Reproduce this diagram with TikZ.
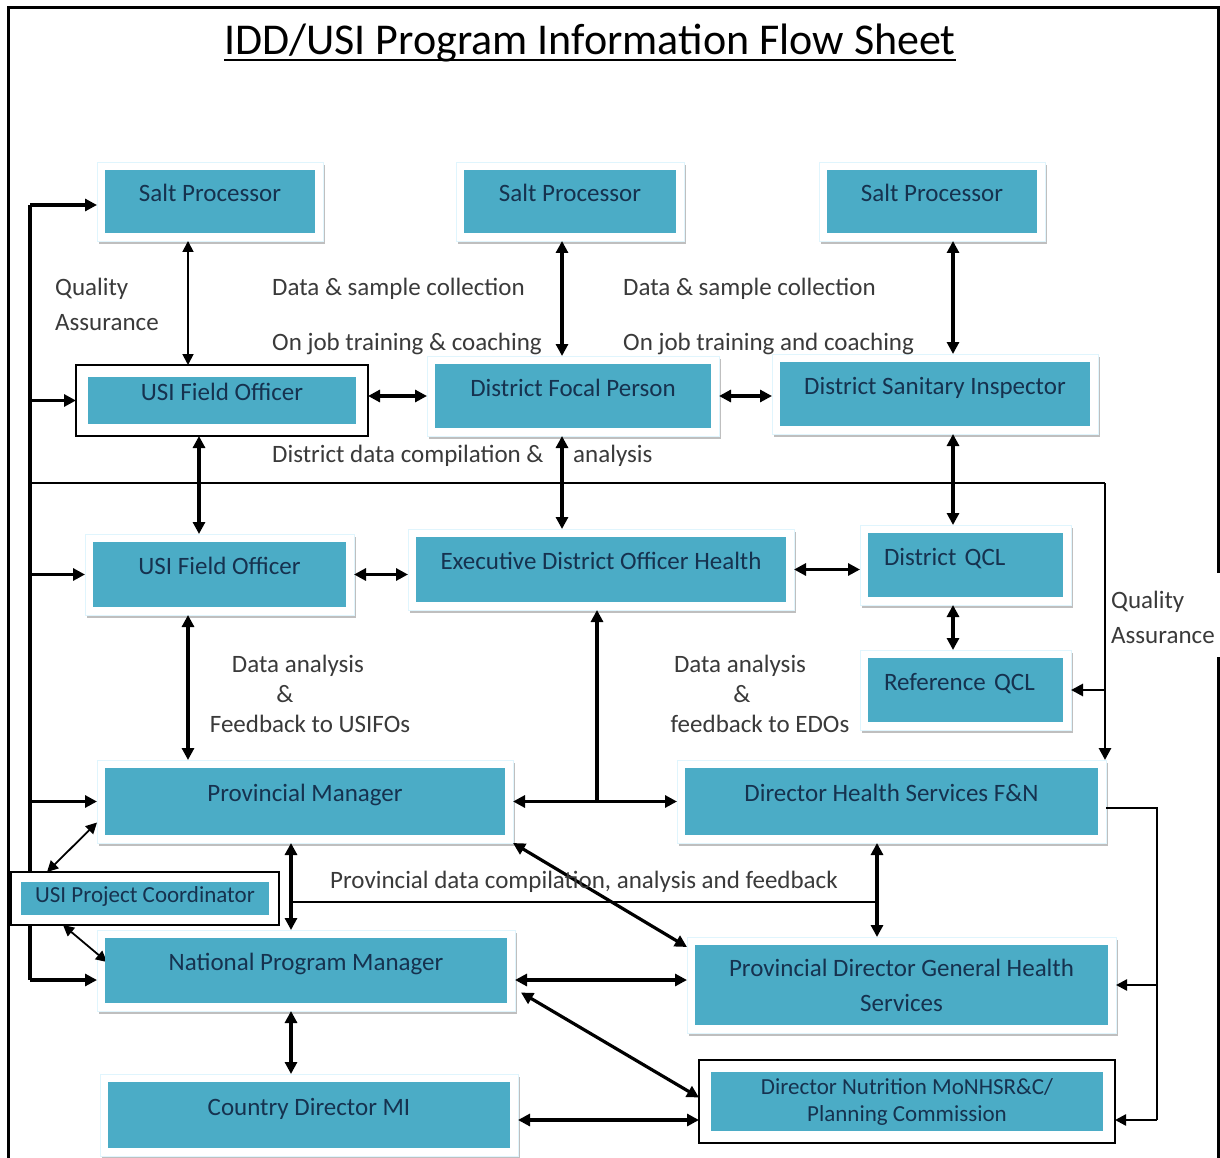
\documentclass[tikz,border=0pt]{standalone}
\usepackage{fontspec}
\setmainfont{Carlito}
\usetikzlibrary{arrows.meta,calc}
\definecolor{boxteal}{HTML}{4BACC6}
\definecolor{boxtext}{HTML}{16324F}
\definecolor{lbltext}{HTML}{3A3A3A}
\newcommand\titlefont{\fontsize{44}{50}\selectfont}
\newcommand\boxfont{\fontsize{25}{30}\selectfont}
\newcommand\lblfont{\fontsize{25}{30}\selectfont}
\newcommand\twofont{\fontsize{25}{35}\selectfont}
\newcommand\smallboxfont{\fontsize{23}{27}\selectfont}
\pgfdeclarelayer{shade}
\pgfdeclarelayer{wires}
\pgfdeclarelayer{cover}
\pgfsetlayers{shade,wires,cover,main}
\begin{document}
\begin{tikzpicture}[x=1pt,y=-1pt,
  box/.style 2 args={fill=boxteal, text=boxtext, inner sep=0pt, outer sep=8pt,
    minimum width=#1, text height=#2, text depth=#2, font=\boxfont},
  twobox/.style={fill=boxteal, text=boxtext, inner sep=0pt, outer sep=8pt,
    align=center, font=\twofont},
  qcl/.style={text width=163pt, align=left, inner xsep=16pt},
  lbl/.style={anchor=base west, inner sep=0pt, text=lbltext, font=\lblfont},
  clbl/.style={anchor=base, inner sep=0pt, text=lbltext, font=\lblfont},
  wire/.style={line width=3.2pt},
  arr/.style={-{Triangle[length=12pt,width=12pt]}, line width=3.2pt},
  darr/.style={{Triangle[length=12pt,width=12pt]}-{Triangle[length=12pt,width=12pt]}, line width=3.2pt},
  tarr/.style={-{Triangle[length=11pt,width=11pt]}, line width=2.4pt},
  tdarr/.style={{Triangle[length=11pt,width=11pt]}-{Triangle[length=11pt,width=11pt]}, line width=1.8pt}]

\useasboundingbox (0,0) rectangle (1220,1158);

% ---------- title ----------
\node[font=\titlefont, inner sep=0pt, anchor=base] (title) at (590,55)
  {IDD/USI Program Information Flow Sheet};
\draw[line width=2pt] ([yshift=-5pt]title.base west) -- ([yshift=-5pt]title.base east);

% ---------- boxes ----------
\node[box={210pt}{31.5pt}] (sp1) at (210,201.5) {Salt Processor};
\node[box={212pt}{31.5pt}] (sp2) at (570,201.5) {Salt Processor};
\node[box={210pt}{31.5pt}] (sp3) at (932,201.5) {Salt Processor};
\node[box={268pt}{23.5pt}, outer sep=12pt] (fo1) at (222,400.5) {USI Field Officer};
\node[box={276pt}{32pt}] (dfp) at (573,396) {District Focal Person};
\node[box={310pt}{32pt}] (dsi) at (935,394) {District Sanitary Inspector};
\node[box={253pt}{32.5pt}] (fo2) at (219.5,574.5) {USI Field Officer};
\node[box={370pt}{32.5pt}] (edo) at (601,569.5) {Executive District Officer Health};
\node[box={195pt}{32pt}, qcl] (dqcl) at (965.5,565) {District QCL};
\node[box={195pt}{32pt}, qcl] (rqcl) at (965.5,690) {Reference QCL};
\node[box={400pt}{33.5pt}] (pm) at (305,801.5) {Provincial Manager};
\node[box={413pt}{33.5pt}] (dhs) at (891.5,801.5) {Director Health Services F\&N};
\node[box={248pt}{16.5pt}, text height=20.5pt, text depth=12.5pt, outer sep=10pt,
  font=\smallboxfont] (pc) at (145,898.5) {USI Project Coordinator};
\node[box={402pt}{32.5pt}] (npm) at (306,970.5) {National Program Manager};
\node[twobox, minimum width=413pt, minimum height=80pt] (pdg) at (901.5,985)
  {Provincial Director General Health\\Services};
\node[box={402pt}{33pt}] (cd) at (309,1115) {Country Director MI};
\node[twobox, minimum width=392pt, minimum height=59pt, outer sep=12pt,
  font=\smallboxfont] (dn) at (907,1101.5)
  {Director Nutrition MoNHSR\&C/\\Planning Commission};

% ---------- labels ----------
\node[lbl] (qa1) at (55,295) {Quality};
\node[lbl] (qa2) at (55,330) {Assurance};
\node[lbl] (dsc1) at (272,295) {Data \& sample collection};
\node[lbl] (ojt1) at (272,350) {On job training \& coaching};
\node[lbl] (dsc2) at (623,295) {Data \& sample collection};
\node[lbl] (ojt2) at (623,350) {On job training and coaching};
\node[lbl] (ddc1) at (272,462) {District data compilation \&};
\node[lbl] (ddc2) at (573,462) {analysis};
\node[clbl] (da1) at (298,672) {Data analysis};
\node[clbl] (da2) at (285,702) {\&};
\node[clbl] (da3) at (310,732) {Feedback to USIFOs};
\node[clbl] (de1) at (740,672) {Data analysis};
\node[clbl] (de2) at (742,702) {\&};
\node[clbl] (de3) at (760,732) {feedback to EDOs};
\node[lbl] (qa3) at (1111,608) {Quality};
\node[lbl] (qa4) at (1111,643) {Assurance};
\node[lbl] (pdc) at (330,888) {Provincial data compilation, analysis and feedback};

% ---------- box frames and shadows ----------
\begin{pgfonlayer}{shade}
  \fill[white] (0,0) rectangle (1220,1158);
  \foreach \n in {sp1,sp2,sp3,dfp,dsi,fo2,edo,dqcl,rqcl,pm,dhs,npm,pdg,cd}{
    \fill[gray!50] ([shift={(2pt,-3pt)}]\n.north west) rectangle ([shift={(2pt,-3pt)}]\n.south east);
    \filldraw[fill=white, draw=cyan!12, line width=0.8pt] (\n.north west) rectangle (\n.south east);
  }
\end{pgfonlayer}
\begin{pgfonlayer}{cover}
  \foreach \n in {fo1,pc,dn}{
    \filldraw[fill=white, line width=2.4pt] (\n.north west) rectangle (\n.south east);
  }
\end{pgfonlayer}

% ---------- connectors ----------
\begin{pgfonlayer}{wires}
  % sheet border
  \draw[line width=3pt] (8,1158) -- (8,8) -- (1218,8) -- (1218,573);
  \draw[line width=3pt] (1218,657) -- (1218,1158);

  % left trunk
  \coordinate (ttop) at (30,205);
  \coordinate (tbot) at (30,980);
  \draw[wire] (ttop) -- (tbot);
  \draw[arr] (ttop) -- (ttop -| sp1.west);
  \draw[arr] (fo1.west -| ttop) -- (fo1.west);
  \draw[arr] (fo2.west -| ttop) -- (fo2.west);
  \draw[arr] (pm.west -| ttop) -- (pm.west);
  \draw[arr] (tbot) -- (tbot -| npm.west);

  % quality assurance loop
  \coordinate (qa) at (1105,483);
  \draw[line width=2.6pt] (ttop |- qa) -- (qa);
  \draw[arr, line width=2.8pt] (qa) -- (qa |- dhs.north);
  \draw[arr, line width=2.8pt] (rqcl.east -| qa) -- (rqcl.east);

  % district level
  \draw[tdarr] ([xshift=-22pt]sp1.south) -- ([xshift=-22pt]sp1.south |- fo1.north);
  \draw[darr] ([xshift=-8pt]sp2.south) -- ([xshift=-8pt]sp2.south |- dfp.north);
  \draw[darr] ([xshift=21pt]sp3.south) -- ([xshift=21pt]sp3.south |- dsi.north);
  \draw[darr] (dfp.west -| fo1.east) -- (dfp.west);
  \draw[darr] (dfp.east) -- (dfp.east -| dsi.west);
  \draw[darr] ([xshift=-23pt]fo1.south) -- ([xshift=-23pt]fo1.south |- fo2.north);
  \draw[darr] ([xshift=-11pt]dfp.south) -- ([xshift=-11pt]dfp.south |- edo.north);
  \draw[darr] ([xshift=18pt]dsi.south) -- ([xshift=18pt]dsi.south |- dqcl.north);
  \draw[darr] (fo2.east) -- (fo2.east -| edo.west);
  \draw[darr] (edo.east) -- (edo.east -| dqcl.west);
  \draw[darr] ([xshift=-12.5pt]dqcl.south) -- ([xshift=-12.5pt]dqcl.south |- rqcl.north);

  % provincial level
  \draw[darr] ([xshift=-31.5pt]fo2.south) -- ([xshift=-31.5pt]fo2.south |- pm.north);
  \draw[darr] (pm.east) -- (pm.east -| dhs.west);
  \draw[arr] ([xshift=-4pt]edo.south |- pm.east) -- ([xshift=-4pt]edo.south);
  \draw[darr] (pm.south east) -- ([yshift=-10pt]pdg.north west);
  \draw[darr] ([xshift=-14pt]pm.south) -- ([xshift=-14pt]pm.south |- npm.north);
  \coordinate (pline) at (0,902);
  \draw[line width=2pt] ([xshift=-14pt]pm.south |- pline) -- ([xshift=-14.5pt]dhs.south |- pline);
  \draw[darr] ([xshift=-14.5pt]dhs.south) -- ([xshift=-14.5pt]dhs.south |- pdg.north);

  % national level
  \draw[darr] ([yshift=-9.5pt]npm.east) -- ([yshift=-9.5pt]npm.east -| pdg.west);
  \draw[darr] ([shift={(6pt,-22pt)}]npm.east) -- ([yshift=4pt]dn.west);
  \draw[darr] ([xshift=-15pt]npm.south) -- ([xshift=-15pt]npm.south |- cd.north);
  \draw[darr] ([yshift=-5pt]cd.east) -- ([yshift=-5pt]cd.east -| dn.west);
  \draw[tdarr] ([xshift=-98pt]pc.north) -- ([yshift=-21pt]pm.west);
  \draw[tdarr] ([xshift=-82pt]pc.south) -- ([shift={(10pt,8.5pt)}]npm.west);

  % feed from Director Health Services
  \coordinate (rtop) at (1157,808);
  \coordinate (rbot) at (1157,1120);
  \draw[line width=2.4pt] ([yshift=-6.5pt]dhs.east) -- (rtop) -- (rbot);
  \draw[tarr] (rbot) -- (rbot -| dn.east);
  \draw[tarr] (pdg.east -| rtop) -- (pdg.east);
\end{pgfonlayer}
\end{tikzpicture}
\end{document}
